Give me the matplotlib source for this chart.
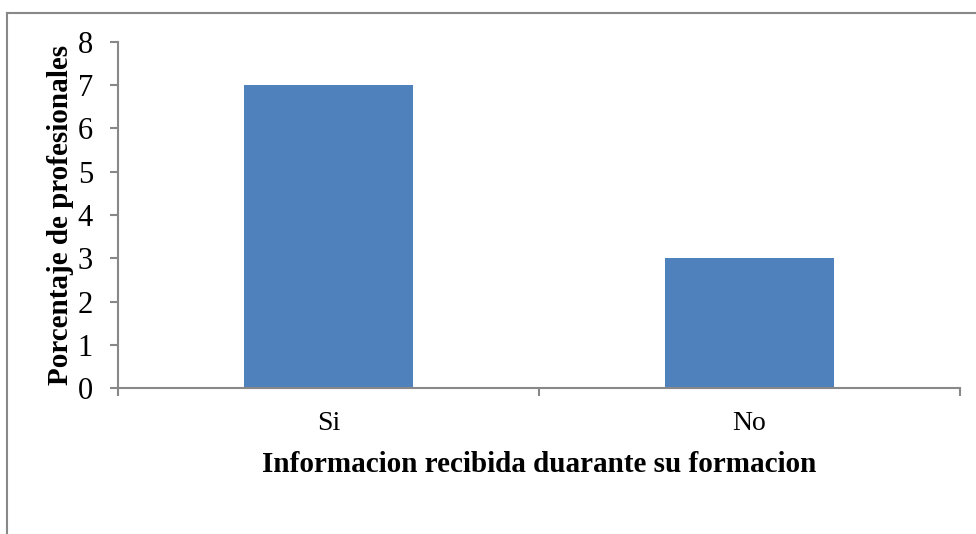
import matplotlib
matplotlib.use("Agg")
import matplotlib.pyplot as plt
from matplotlib.lines import Line2D

categories = ["Si", "No"]
values = [7, 3]
y_ticks = [0, 1, 2, 3, 4, 5, 6, 7, 8]
x_label = "Informacion recibida duarante su formacion"
y_label = "Porcentaje de profesionales"

plt.rcParams['font.family'] = ['Liberation Serif', 'DejaVu Serif']

fig = plt.figure(figsize=(9.76, 5.34), dpi=100)
ax = fig.add_axes([118/976, 1-388.3/534, (960-118)/976, (388.3-41.7)/534])

x = list(range(len(categories)))
ax.bar(x, values, width=0.4, color="#4F81BD", zorder=2)
ax.set_xlim(-0.5, len(categories) - 0.5)
ax.set_ylim(0, 8)
ax.set_yticks(y_ticks)
ax.set_yticklabels([str(t) for t in y_ticks], fontsize=22)
ax.set_xticks(x)
ax.set_xticklabels(categories, fontsize=20)
ax.set_xticks([-0.5, 0.5, 1.5], minor=True)
ax.tick_params(axis='x', which='major', length=0, pad=16)
ax.tick_params(axis='x', which='minor', length=6, width=1.5, color="#888888", direction='out')
ax.tick_params(axis='y', length=6, width=1.5, color="#888888", direction='out', pad=12)

for s in ['top', 'right']:
    ax.spines[s].set_visible(False)
for s in ['left', 'bottom']:
    ax.spines[s].set_color("#888888")
    ax.spines[s].set_linewidth(1.5)

ax.set_xlabel(x_label, fontsize=21, fontweight='bold', labelpad=11)
ax.set_ylabel(y_label, fontsize=21, fontweight='bold', labelpad=3)

# outer frame (left and top edges)
fig.add_artist(Line2D([7/976, 7/976], [0, 1-12.5/534], transform=fig.transFigure, color="#888888", lw=1.5))
fig.add_artist(Line2D([7/976, 1], [1-12.5/534, 1-12.5/534], transform=fig.transFigure, color="#888888", lw=1.5))

fig.savefig("out.png", dpi=100)
